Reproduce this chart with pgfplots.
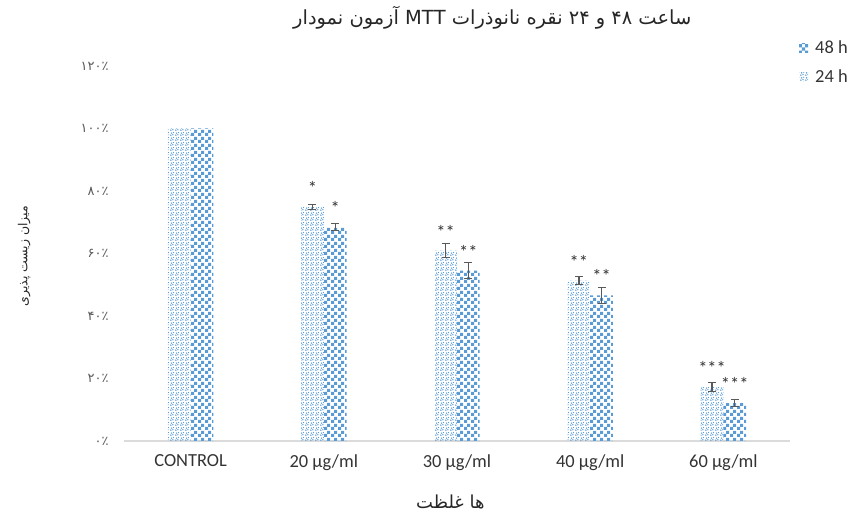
\documentclass[border=0pt]{standalone}
\usepackage{pgfplots}
\pgfplotsset{compat=1.18}
\usepackage{pgfplotstable}
\usepackage{fontspec}
\setmainfont{Carlito}
\newfontfamily\arabicfont[Script=Arabic]{DejaVu Sans}
\TeXXeTstate=1
\usetikzlibrary{patterns}

\definecolor{barblue}{HTML}{5B9BD5}
\definecolor{txtgray}{HTML}{595959}

% 48 h: checkerboard, 24 h: fine dots
\pgfdeclarepatternformonly{checkerbig}{\pgfqpoint{0bp}{0bp}}{\pgfqpoint{6.6bp}{6.6bp}}{\pgfqpoint{6.6bp}{6.6bp}}{
  \pgfpathrectangle{\pgfqpoint{0bp}{0bp}}{\pgfqpoint{3.3bp}{3.3bp}}
  \pgfpathrectangle{\pgfqpoint{3.3bp}{3.3bp}}{\pgfqpoint{3.3bp}{3.3bp}}
  \pgfusepath{fill}}
\pgfdeclarepatternformonly{finedots}{\pgfqpoint{0bp}{0bp}}{\pgfqpoint{5bp}{5bp}}{\pgfqpoint{5bp}{5bp}}{
  \pgfpathcircle{\pgfqpoint{0.9bp}{0.9bp}}{0.9bp}
  \pgfpathcircle{\pgfqpoint{3.4bp}{1.5bp}}{0.9bp}
  \pgfpathcircle{\pgfqpoint{1.8bp}{3.5bp}}{0.9bp}
  \pgfpathcircle{\pgfqpoint{4.2bp}{4.1bp}}{0.7bp}
  \pgfusepath{fill}}

% bar heights (%)
\pgfplotstableread{
x y
0 100
1 74.8
2 60.9
3 51.3
4 17.3
}\tfour
\pgfplotstableread{
x y
0 100
1 68.4
2 54.5
3 46.6
4 12.2
}\teight

% error bars and significance stars
\pgfplotstableread{
x y e s
1 74.8 0.8 *
2 60.9 2.2 **
3 51.3 1.3 **
4 17.3 1.4 ***
}\efour
\pgfplotstableread{
x y e s
1 68.4 1.1 *
2 54.5 2.6 **
3 46.6 2.5 **
4 12.2 1.1 ***
}\eeight

\newcommand{\bigfont}{\fontsize{18.5}{22}\selectfont}

\begin{document}
\begin{tikzpicture}
\path[use as bounding box] (-124bp,-75bp) rectangle (728bp,441bp);
\begin{axis}[
    at={(0,0)}, anchor=south west,
    scale only axis,
    width=666bp, height=375bp,
    xmin=-0.5, xmax=4.5,
    ymin=0, ymax=120,
    ybar=0pt, bar width=22.7bp,
    axis x line*=bottom, axis y line*=left,
    axis line style={-},
    x axis line style={draw=black!14, line width=1.2bp},
    y axis line style={draw=none},
    major tick length=0pt,
    xtick={0,1,2,3,4},
    xticklabels={CONTROL, 20 µg/ml, 30 µg/ml, 40 µg/ml, 60 µg/ml},
    xticklabel style={font=\bigfont, text=black!80, yshift=-10bp},
    ytick={0,20,40,60,80,100,120},
    yticklabels={{۰٪},{۲۰٪},{۴۰٪},{۶۰٪},{۸۰٪},{۱۰۰٪},{۱۲۰٪}},
    yticklabel style={font=\arabicfont\fontsize{13}{15}\selectfont, text=txtgray, xshift=-12bp},
    title={\beginR ساعت ۴۸ و ۲۴ نقره نانوذرات MTT آزمون نمودار\endR},
    title style={at={(axis description cs:0.553,1.113)}, anchor=center,
        font=\arabicfont\fontsize{19.5}{22}\selectfont, text=black!85},
    xlabel={\beginR ها غلظت\endR},
    xlabel style={at={(axis description cs:0.49,-0.163)}, anchor=center,
        font=\arabicfont\fontsize{18}{20}\selectfont, text=black!85},
    ylabel={\beginR میزان زیست پذیری\endR},
    ylabel style={at={(axis description cs:-0.150,0.493)}, anchor=center,
        font=\arabicfont\fontsize{12.5}{14}\selectfont, text=black!85},
    legend style={at={(axis description cs:1.0135,1.073)}, anchor=north west,
        draw=none, fill=none, font=\bigfont, text=black!80,
        row sep=11bp, inner sep=0pt,
        /tikz/every odd column/.append style={column sep=5bp}},
    legend cell align=left,
    reverse legend,
    legend image code/.code={\path[#1, draw=none] (0bp,-4.5bp) rectangle (9bp,4.5bp);},
    every node near coord/.append style={font=\bigfont, text=black!80, anchor=center, yshift=19bp},
    error bars/y dir=both,
    error bars/y explicit,
    error bars/error bar style={line width=1.3bp, draw=txtgray},
    error bars/error mark options={line width=1.3bp, draw=txtgray, mark size=4bp, rotate=90},
]
\addplot[bar shift=-11.35bp, draw=none, pattern=finedots, pattern color=barblue]
    table[x=x, y=y] {\tfour};
\addlegendentry{24 h}
\addplot[bar shift=11.35bp, draw=none, pattern=checkerbig, pattern color=barblue]
    table[x=x, y=y] {\teight};
\addlegendentry{48 h}

\addplot[forget plot, bar shift=-11.35bp, draw=none, fill=none,
    nodes near coords, point meta=explicit symbolic]
    table[x=x, y=y, y error=e, meta=s] {\efour};
\addplot[forget plot, bar shift=11.35bp, draw=none, fill=none,
    nodes near coords, point meta=explicit symbolic]
    table[x=x, y=y, y error=e, meta=s] {\eeight};
\end{axis}
\end{tikzpicture}
\end{document}
